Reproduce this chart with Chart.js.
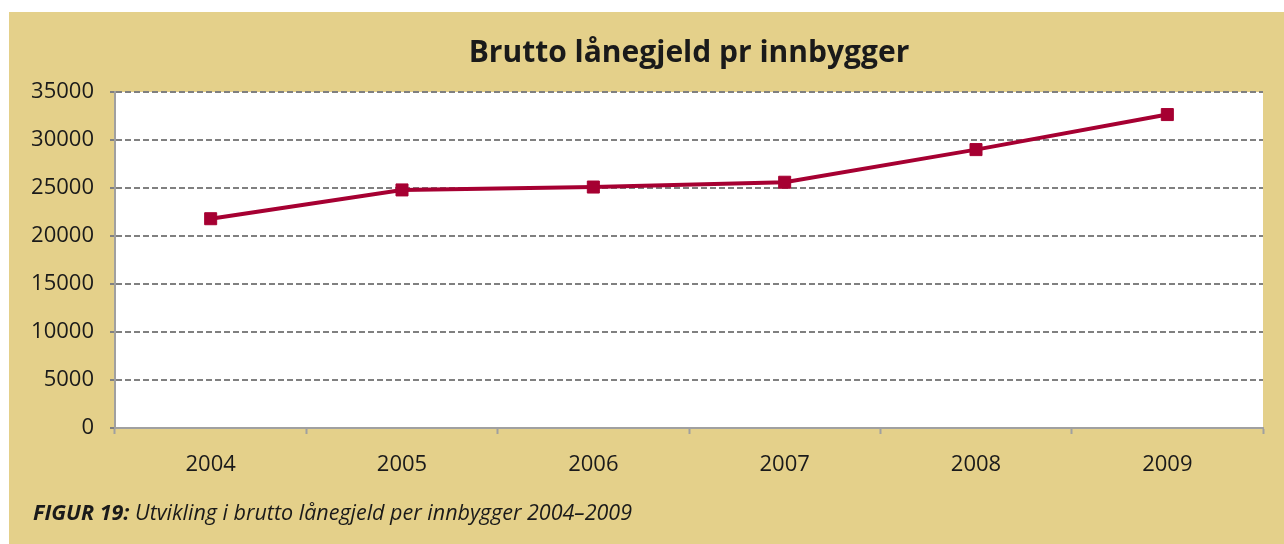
<!DOCTYPE html>
<html>
<head>
<meta charset="utf-8">
<script src="https://cdn.jsdelivr.net/npm/chart.js@4/dist/chart.umd.min.js"></script>
<style>
  html, body { margin: 0; padding: 0; background: #fff; }
  #panel {
    position: absolute; left: 9px; top: 12px;
    width: 1275px; height: 532px;
    background: #E4D08A;
  }
  #panel canvas { position: absolute; left: 0; top: 0; }
  #caption {
    position: absolute; left: 24px; top: 485px;
    font-family: "Open Sans", sans-serif; font-style: italic;
    font-size: 21.5px; color: #1a1a1a; white-space: nowrap;
  }
  #caption b { font-weight: 700; }
</style>
</head>
<body>
<div id="panel">
  <canvas id="chart" width="1275" height="532"></canvas>
  <div id="caption"><b>FIGUR 19:</b> Utvikling i brutto lånegjeld per innbygger 2004–2009</div>
</div>
<script>
const years = ['2004', '2005', '2006', '2007', '2008', '2009']
const debtPerCapita = [21800, 24800, 25100, 25600, 29000, 32650]
const yMin = 0
const yMax = 35000
const yStep = 5000

const lineColor = '#A60032'
const gridColor = '#808080'
const axisColor = '#A0A0A0'

// white plot area on the tan panel
const plotBackground = {
  id: 'plotBackground',
  beforeDraw(chart) {
    const { ctx, chartArea } = chart
    ctx.save()
    ctx.fillStyle = '#ffffff'
    ctx.fillRect(chartArea.left, chartArea.top, chartArea.width, chartArea.height)
    ctx.restore()
  }
}

const ctx = document.getElementById('chart').getContext('2d')

new Chart(ctx, {
  type: 'line',
  data: {
    labels: years,
    datasets: [{
      label: 'Brutto lånegjeld pr innbygger',
      data: debtPerCapita,
      borderColor: lineColor,
      backgroundColor: lineColor,
      borderWidth: 4,
      tension: 0,
      fill: false,
      pointStyle: 'rect',
      pointRadius: 8.5,
      pointBorderWidth: 1,
      pointBackgroundColor: lineColor,
      pointBorderColor: lineColor
    }]
  },
  plugins: [plotBackground],
  options: {
    responsive: false,
    animation: false,
    layout: {
      padding: { left: 0, right: 21, top: 0, bottom: 56 }
    },
    plugins: {
      legend: { display: false },
      tooltip: { enabled: false },
      title: {
        display: true,
        fullSize: false,
        text: 'Brutto lånegjeld pr innbygger',
        color: '#1a1a1a',
        font: { family: 'Open Sans', size: 30, weight: 'bold' },
        padding: { top: 23, bottom: 21 }
      }
    },
    scales: {
      x: {
        offset: true,
        afterFit: (scale) => { scale.height = 60 },
        grid: {
          offset: true,
          drawOnChartArea: false,
          drawTicks: true,
          tickLength: 6,
          tickColor: axisColor,
          tickWidth: 2
        },
        border: { display: true, color: axisColor, width: 2 },
        ticks: {
          color: '#1a1a1a',
          padding: 18,
          font: { family: 'Open Sans', size: 22 }
        }
      },
      y: {
        min: yMin,
        max: yMax,
        afterFit: (scale) => { scale.width = 106 },
        grid: {
          color: gridColor,
          lineWidth: 2,
          drawTicks: true,
          tickLength: 5,
          tickColor: gridColor,
          tickWidth: 2,
          tickBorderDash: []
        },
        border: { display: true, color: axisColor, width: 2, dash: [6, 3] },
        ticks: {
          stepSize: yStep,
          color: '#1a1a1a',
          padding: 16,
          font: { family: 'Open Sans', size: 22 },
          callback: (value) => String(value)
        }
      }
    }
  }
})
</script>
</body>
</html>
